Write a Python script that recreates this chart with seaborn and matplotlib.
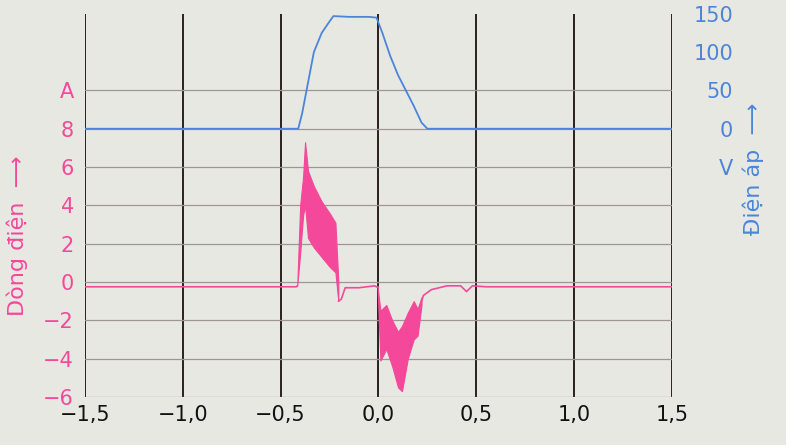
import numpy as np
import matplotlib.pyplot as plt
import seaborn as sns

sns.set_theme(style="white")
plt.rcParams['font.family'] = ['DejaVu Sans']

PINK = '#f4489a'
BLUE = '#4a85da'

# Điện áp (V)
v_x = [-1.5, -0.41, -0.39, -0.36, -0.33, -0.29, -0.25, -0.23, -0.15, -0.05, -0.01, 0.02,
       0.06, 0.10, 0.14, 0.18, 0.22, 0.25, 1.5]
v_y = [0, 0, 20, 60, 100, 125, 140, 147, 146, 146, 145, 125, 95, 70, 50, 30, 8, 0, 0]

# Dòng điện (A) - đường cơ sở (trước, giữa, sau các vùng dao động)
b1_x = [-1.5, -0.42, -0.415]
b1_y = [-0.25, -0.25, -0.2]
b2_x = [-0.205, -0.19, -0.17, -0.1, -0.02, 0.0]
b2_y = [-1.0, -0.9, -0.3, -0.3, -0.2, -0.3]
b3_x = [0.22, 0.23, 0.27, 0.35, 0.42, 0.45, 0.48, 0.55, 1.5]
b3_y = [-1.0, -0.7, -0.4, -0.2, -0.2, -0.5, -0.2, -0.25, -0.25]

# Vùng dao động (đường bao trên / dưới)
e1_x = [-0.415, -0.40, -0.385, -0.375, -0.36, -0.33, -0.29, -0.25, -0.22, -0.205]
e1_hi = [-0.2, 4.0, 5.5, 7.3, 5.8, 5.0, 4.2, 3.6, 3.1, 0.0]
e1_lo = [-0.2, 1.5, 3.5, 4.0, 2.3, 1.8, 1.3, 0.8, 0.5, -1.0]

e2_x = [-0.005, 0.01, 0.04, 0.07, 0.10, 0.12, 0.15, 0.18, 0.20, 0.22]
e2_hi = [-0.2, -1.5, -1.2, -2.0, -2.6, -2.3, -1.6, -1.0, -1.4, -0.8]
e2_lo = [-0.2, -4.1, -3.5, -4.4, -5.5, -5.7, -4.0, -3.0, -2.8, -1.2]

fig = plt.figure(figsize=(7.86, 4.45), dpi=100)
fig.patch.set_facecolor('#e8e8e3')
ax = fig.add_axes([0.108, 0.108, 0.747, 0.861])
ax.set_facecolor('#e8e8e3')

ax.set_xlim(-1.5, 1.5)
ax.set_ylim(-6, 14)
for xv in np.arange(-1.5, 1.51, 0.5):
    ax.axvline(xv, color='#2a2020', lw=1.4, zorder=1)
for yv in range(-6, 11, 2):
    ax.axhline(yv, color='#a09595', lw=0.9, zorder=1)
for s in ax.spines.values():
    s.set_visible(False)

ax.fill_between(e1_x, e1_lo, e1_hi, color=PINK, lw=0.8, zorder=3)
ax.fill_between(e2_x, e2_lo, e2_hi, color=PINK, lw=0.8, zorder=3)
for bx, by in [(b1_x, b1_y), (b2_x, b2_y), (b3_x, b3_y)]:
    sns.lineplot(x=bx, y=by, ax=ax, color=PINK, lw=1.2, zorder=2)

ax2 = ax.twinx()
ax2.set_ylim(-350, 150)
sns.lineplot(x=v_x, y=v_y, ax=ax2, color=BLUE, lw=1.3)
for s in ax2.spines.values():
    s.set_visible(False)

ax.set_xticks([-1.5, -1.0, -0.5, 0.0, 0.5, 1.0, 1.5])
ax.set_xticklabels(['−1,5', '−1,0', '−0,5', '0,0', '0,5', '1,0', '1,5'])
ax.set_yticks([-6, -4, -2, 0, 2, 4, 6, 8, 10])
ax.set_yticklabels(['−6', '−4', '−2', '0', '2', '4', '6', '8', 'A'])
ax2.set_yticks([-50, 0, 50, 100, 150])
ax2.set_yticklabels(['V', '0', '50', '100', '150'])
ax.tick_params(axis='x', labelsize=15, colors='#111111', length=0, pad=6)
ax.tick_params(axis='y', labelsize=15, colors=PINK, length=0, pad=8)
ax2.tick_params(axis='y', labelsize=15, colors=BLUE, length=0, pad=44)
for t in ax2.get_yticklabels():
    t.set_horizontalalignment('right')

fig.text(0.022, 0.47, 'Dòng điện  ⟶', rotation=90, color=PINK, fontsize=16,
         ha='center', va='center')
fig.text(0.958, 0.62, 'Điện áp  ⟶', rotation=90, color=BLUE, fontsize=16,
         ha='center', va='center')

fig.savefig('out.png', dpi=100, facecolor=fig.get_facecolor())
